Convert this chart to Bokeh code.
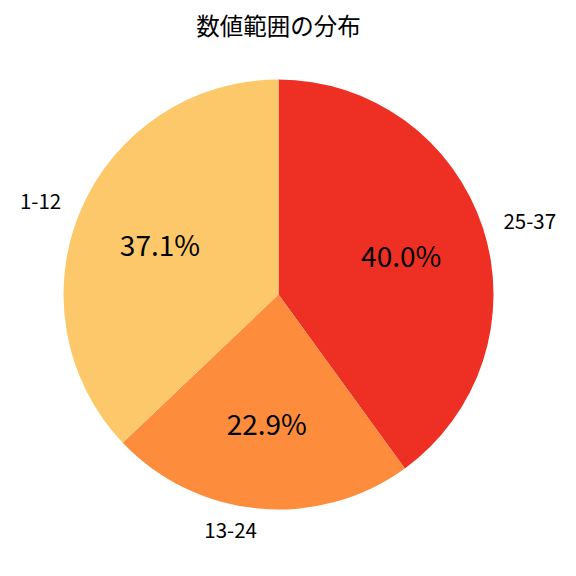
import numpy as np
from bokeh.plotting import figure
from bokeh.models import ColumnDataSource, Range1d
from bokeh.core.properties import value
from bokeh.embed import file_html
from bokeh.resources import INLINE

title = "数値範囲の分布"
labels = ["25-37", "13-24", "1-12"]
percents = [40.0, 22.9, 37.1]
colors = ["#EE3024", "#FD8D3C", "#FDC869"]

W = H = 560
cx, cy, r = 278, 266, 215
FONT = "Noto Sans CJK JP"

vals = np.array(percents)
frac = vals / vals.sum()
ang = np.cumsum(np.concatenate([[0], frac])) * 2 * np.pi
start = np.pi / 2 - ang[:-1]
end = np.pi / 2 - ang[1:]
mid = (start + end) / 2

p = figure(width=W, height=H, output_backend="svg", toolbar_location=None,
           x_range=Range1d(0, W), y_range=Range1d(0, H), min_border=0)
p.axis.visible = False
p.grid.visible = False
p.outline_line_color = None

src = ColumnDataSource(dict(start=start, end=end, color=colors))
p.wedge(x=cx, y=cy, radius=r, start_angle="end", end_angle="start",
        fill_color="color", line_color=None, source=src)

lx = cx + 1.1 * r * np.cos(mid)
ly = cy + 1.1 * r * np.sin(mid)
align = ["left" if np.cos(m) > 0 else "right" for m in mid]
p.text(x=lx, y=ly, text=labels, text_align=align, text_baseline="middle",
       text_font=value(FONT), text_font_size="20.5px", text_color="black")

px = cx + 0.6 * r * np.cos(mid)
py = cy + 0.6 * r * np.sin(mid)
p.text(x=px, y=py, text=[f"{v:.1f}%" for v in percents], text_align="center",
       text_baseline="middle", text_font=value(FONT), text_font_size="28px",
       text_color="black")

p.text(x=[278], y=[536], text=[title], text_align="center", text_baseline="middle",
       text_font=value(FONT), text_font_size="23.5px", text_font_style="normal",
       text_color="black")

open("out.html", "w").write(file_html(p, INLINE))
